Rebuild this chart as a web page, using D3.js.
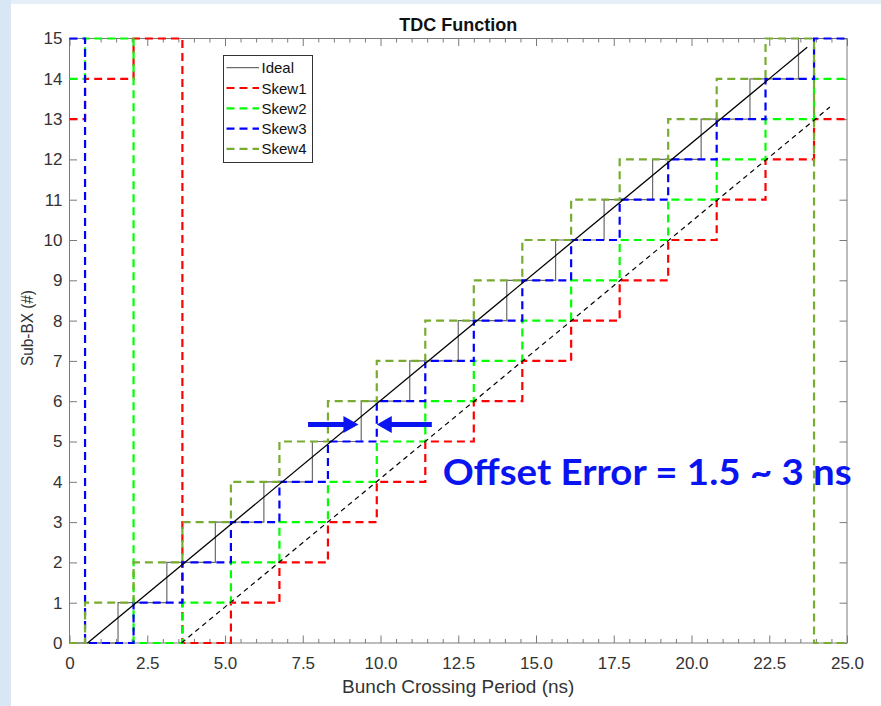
<!DOCTYPE html>
<html>
<head>
<meta charset="utf-8">
<script src="https://cdn.jsdelivr.net/npm/d3@7/dist/d3.min.js"></script>
<style>
  html, body { margin: 0; padding: 0; background: #fff; }
  svg { display: block; }
</style>
</head>
<body>
<script>
// step edges (ns) shared by the four skewed curves
const skewX = [0, 0.5, 2.06, 3.63, 5.19, 6.75, 8.31, 9.88, 11.44, 13.0, 14.56, 16.13, 17.69, 19.25, 20.81, 22.38, 23.94, 25];
const skew1 = [13, 14, 15, 0, 1, 2, 3, 4, 5, 6, 7, 8, 9, 10, 11, 12, 13, 13];
const skew2 = [14, 15, 0, 1, 2, 3, 4, 5, 6, 7, 8, 9, 10, 11, 12, 13, 14, 14];
const skew3 = [15, 0, 1, 2, 3, 4, 5, 6, 7, 8, 9, 10, 11, 12, 13, 14, 15, 15];
const skew4 = [0, 1, 2, 3, 4, 5, 6, 7, 8, 9, 10, 11, 12, 13, 14, 15, 0, 0];

const idealX = [0, 1.56, 3.13, 4.69, 6.25, 7.81, 9.38, 10.94, 12.5, 14.06, 15.63, 17.19, 18.75, 20.31, 21.88, 23.44, 25];
const idealY = [0, 1, 2, 3, 4, 5, 6, 7, 8, 9, 10, 11, 12, 13, 14, 15, 15];

// linear fits drawn in black
const fitSolid = [[0.58, 0], [23.72, 14.78]];
const fitDashed = [[3.6, 0], [24.45, 13.3]];

const xTicks = [0, 2.5, 5, 7.5, 10, 12.5, 15, 17.5, 20, 22.5, 25];
const yTicks = [0, 1, 2, 3, 4, 5, 6, 7, 8, 9, 10, 11, 12, 13, 14, 15];

const seriesNames = ["Skew1", "Skew2", "Skew3", "Skew4"];
const seriesColors = ["#ff0000", "#00ff00", "#0000ff", "#77ac30"];

// arrows of the annotation: from -> to at level y
const arrows = [{ from: 7.67, to: 9.29, y: 5.42 }, { from: 11.65, to: 9.88, y: 5.42 }];

const W = 881, H = 706;
const mLeft = 69.5, mTop = 38.5, mRight = 847, mBottom = 643;

const svg = d3.select("body").append("svg")
  .attr("width", W)
  .attr("height", H);

// light border of the slide
svg.append("rect").attr("x", 0).attr("y", 0).attr("width", W).attr("height", 4).attr("fill", "#e6eef7");
svg.append("rect").attr("x", 0).attr("y", 0).attr("width", 11).attr("height", H).attr("fill", "#d9e6f4");

const x = d3.scaleLinear().domain([0, 25]).range([mLeft, mRight]);
const y = d3.scaleLinear().domain([0, 15]).range([mBottom, mTop]);

const font = "'Liberation Sans', Arial, sans-serif";

// axes box
const axColor = "#7a7a7a";
svg.append("rect")
  .attr("x", mLeft).attr("y", mTop)
  .attr("width", mRight - mLeft).attr("height", mBottom - mTop)
  .attr("fill", "none").attr("stroke", axColor).attr("stroke-width", 1);

const minorX = d3.range(0, 25.01, 0.5).filter(v => Math.abs(v / 2.5 - Math.round(v / 2.5)) > 1e-6);

const gx = svg.append("g").attr("transform", `translate(0,${mBottom})`)
  .call(d3.axisBottom(x).tickValues(xTicks).tickSizeInner(-7.5).tickSizeOuter(0).tickPadding(14)
    .tickFormat(d => d === 0 ? "0" : d3.format(".1f")(d)));
const gxt = svg.append("g").attr("transform", `translate(0,${mTop})`)
  .call(d3.axisTop(x).tickValues(xTicks).tickSizeInner(-7.5).tickSizeOuter(0).tickFormat(""));
const gxm = svg.append("g").attr("transform", `translate(0,${mBottom})`)
  .call(d3.axisBottom(x).tickValues(minorX).tickSizeInner(-4).tickSizeOuter(0).tickFormat(""));
const gxmt = svg.append("g").attr("transform", `translate(0,${mTop})`)
  .call(d3.axisTop(x).tickValues(minorX).tickSizeInner(-4).tickSizeOuter(0).tickFormat(""));
const gy = svg.append("g").attr("transform", `translate(${mLeft},0)`)
  .call(d3.axisLeft(y).tickValues(yTicks).tickSizeInner(-7.5).tickSizeOuter(0).tickPadding(7));
const gyr = svg.append("g").attr("transform", `translate(${mRight},0)`)
  .call(d3.axisRight(y).tickValues(yTicks).tickSizeInner(-7.5).tickSizeOuter(0).tickFormat(""));

[gx, gxt, gxm, gxmt, gy, gyr].forEach(g => {
  g.select(".domain").remove();
  g.selectAll(".tick line").attr("stroke", axColor);
  g.selectAll("text").attr("fill", "#333").attr("font-family", font).attr("font-size", 17);
});

// title and axis labels
svg.append("text").attr("x", (mLeft + mRight) / 2).attr("y", 31)
  .attr("text-anchor", "middle").attr("font-family", font).attr("font-weight", "bold")
  .attr("font-size", 18).attr("fill", "#111").text("TDC Function");

svg.append("text").attr("x", (mLeft + mRight) / 2).attr("y", 693)
  .attr("text-anchor", "middle").attr("font-family", font)
  .attr("font-size", 19).attr("fill", "#333").text("Bunch Crossing Period (ns)");

svg.append("text")
  .attr("transform", "translate(33,328) rotate(-90)")
  .attr("text-anchor", "middle").attr("font-family", font)
  .attr("font-size", 16.5).attr("textLength", 76).attr("lengthAdjust", "spacingAndGlyphs")
  .attr("fill", "#333").text("Sub-BX (#)");

const stepLine = d3.line().x(d => x(d[0])).y(d => y(d[1])).curve(d3.curveStepAfter);
const straight = d3.line().x(d => x(d[0])).y(d => y(d[1]));

// ideal transfer curve
svg.append("path")
  .attr("d", stepLine(idealX.map((v, i) => [v, idealY[i]])))
  .attr("fill", "none").attr("stroke", "#6b6b6b").attr("stroke-width", 1.2);

// skewed curves
const skews = [skew1, skew2, skew3, skew4];
skews.forEach((vals, k) => {
  svg.append("path")
    .attr("d", stepLine(skewX.map((v, i) => [v, vals[i]])))
    .attr("fill", "none")
    .attr("stroke", seriesColors[k])
    .attr("stroke-width", 2.2)
    .attr("stroke-dasharray", "8,5");
});

// black fits
svg.append("path").attr("d", straight(fitSolid))
  .attr("fill", "none").attr("stroke", "#000").attr("stroke-width", 1.3);
svg.append("path").attr("d", straight(fitDashed))
  .attr("fill", "none").attr("stroke", "#000").attr("stroke-width", 1.2)
  .attr("stroke-dasharray", "5,4");

// legend
const lg = svg.append("g");
lg.append("rect").attr("x", 223.5).attr("y", 55.5).attr("width", 89).attr("height", 107)
  .attr("fill", "#fff").attr("stroke", "#333").attr("stroke-width", 1);
const legendItems = [{ name: "Ideal", color: "#6b6b6b", dash: null, w: 1.2 }]
  .concat(seriesNames.map((n, i) => ({ name: n, color: seriesColors[i], dash: "8,5", w: 2.2 })));
legendItems.forEach((d, i) => {
  const yy = 67.7 + i * 20.3;
  lg.append("line").attr("x1", 226.5).attr("x2", 259).attr("y1", yy).attr("y2", yy)
    .attr("stroke", d.color).attr("stroke-width", d.w)
    .attr("stroke-dasharray", d.dash);
  lg.append("text").attr("x", 261.5).attr("y", yy + 5.5)
    .attr("font-family", font).attr("font-size", 15).attr("fill", "#111").text(d.name);
});

// annotation arrows
const blue = "#0a14f0";
arrows.forEach(a => {
  const x0 = x(a.from), x1 = x(a.to), yy = y(a.y);
  const dir = Math.sign(x1 - x0), head = 15;
  const xb = x1 - dir * head;
  svg.append("path")
    .attr("d", `M${x0},${yy - 2.5}L${xb},${yy - 2.5}L${xb},${yy - 8.5}L${x1},${yy}L${xb},${yy + 8.5}L${xb},${yy + 2.5}L${x0},${yy + 2.5}Z`)
    .attr("fill", blue);
});

svg.append("text")
  .attr("x", x(12.0)).attr("y", y(3.92))
  .attr("font-family", "Lato, 'Open Sans', sans-serif").attr("font-weight", "bold")
  .attr("font-size", 37).attr("textLength", 409).attr("lengthAdjust", "spacingAndGlyphs")
  .attr("fill", blue).text("Offset Error = 1.5 ~ 3 ns");
</script>
</body>
</html>
